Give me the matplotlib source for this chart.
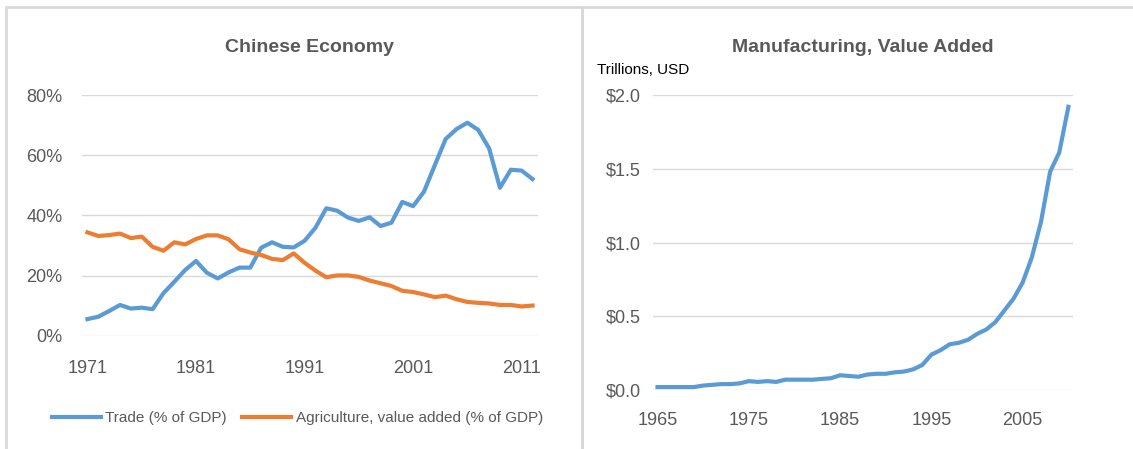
import matplotlib.pyplot as plt
from matplotlib.patches import Rectangle

plt.rcParams['font.family'] = ['Liberation Sans', 'DejaVu Sans']

# left chart: Chinese economy, share of GDP (%)
years_cn = list(range(1971, 2013))
trade = [5.6, 6.4, 8.3, 10.3, 9.1, 9.4, 8.9, 14.2, 18.0, 21.9,
         24.9, 21.0, 19.1, 21.1, 22.7, 22.7, 29.3, 31.1, 29.6, 29.4,
         31.6, 35.9, 42.4, 41.6, 39.3, 38.2, 39.4, 36.5, 37.6, 44.5,
         43.1, 47.9, 56.7, 65.4, 68.7, 70.8, 68.4, 62.3, 49.2, 55.2,
         54.9, 52.1]
agri = [34.4, 33.2, 33.5, 34.0, 32.5, 33.0, 29.6, 28.3, 31.1, 30.4,
        32.2, 33.4, 33.4, 32.1, 28.8, 27.7, 26.9, 25.6, 25.2, 27.4,
        24.3, 21.7, 19.5, 20.1, 20.1, 19.6, 18.4, 17.5, 16.6, 15.0,
        14.6, 13.8, 12.9, 13.4, 12.2, 11.3, 11.0, 10.8, 10.3, 10.3,
        9.8, 10.1]

# right chart: manufacturing value added, trillions USD
years_mfg = list(range(1965, 2011))
mfg = [0.02, 0.02, 0.02, 0.02, 0.02, 0.03, 0.035, 0.04, 0.04, 0.045,
       0.06, 0.055, 0.06, 0.055, 0.07, 0.07, 0.07, 0.07, 0.075, 0.08,
       0.10, 0.095, 0.09, 0.105, 0.11, 0.11, 0.12, 0.125, 0.14, 0.17,
       0.24, 0.27, 0.31, 0.32, 0.34, 0.38, 0.41, 0.46, 0.54, 0.62,
       0.73, 0.90, 1.14, 1.48, 1.61, 1.92]

blue = '#5B9BD5'
orange = '#ED7D31'
gray = '#595959'
grid = '#D9D9D9'

fig = plt.figure(figsize=(11.33, 4.49), dpi=100)

# panel frames
fig.add_artist(Rectangle((6 / 1133, -0.01), 576 / 1133, 1 - 7 / 449 + 0.01,
                         transform=fig.transFigure, fill=False,
                         edgecolor=grid, lw=2))
fig.add_artist(Rectangle((582 / 1133, -0.01), 0.5, 1 - 7 / 449 + 0.01,
                         transform=fig.transFigure, fill=False,
                         edgecolor=grid, lw=2))


def style(ax):
    for s in ax.spines.values():
        s.set_visible(False)
    ax.grid(axis='y', color=grid, lw=1)
    ax.set_axisbelow(True)
    ax.tick_params(length=0, labelcolor=gray, labelsize=13)


ax1 = fig.add_axes([0.0724, 0.2517, 0.4024, 0.5367])
style(ax1)
ax1.plot(years_cn, trade, color=blue, lw=3, label='Trade (% of GDP)')
ax1.plot(years_cn, agri, color=orange, lw=3,
         label='Agriculture, value added (% of GDP)')
ax1.set_xlim(1970.5, 2012.5)
ax1.set_ylim(0, 80)
ax1.set_yticks([0, 20, 40, 60, 80])
ax1.set_yticklabels(['0%', '20%', '40%', '60%', '80%'])
ax1.set_xticks([1971, 1981, 1991, 2001, 2011])
ax1.tick_params(axis='y', pad=14)
ax1.tick_params(axis='x', pad=17)
ax1.set_title('Chinese Economy', fontsize=14, fontweight='bold', color=gray,
              pad=31)
ax1.legend(loc='center', bbox_to_anchor=(0.472, -0.34), ncol=2, frameon=False,
           fontsize=11, labelcolor=gray, handlelength=3.2, columnspacing=1.0,
           handletextpad=0.3)

ax2 = fig.add_axes([0.5763, 0.1314, 0.3707, 0.657])
style(ax2)
ax2.plot(years_mfg, mfg, color=blue, lw=3)
ax2.set_xlim(1964.5, 2010.5)
ax2.set_ylim(0, 2.0)
ax2.set_yticks([0, 0.5, 1.0, 1.5, 2.0])
ax2.set_yticklabels(['$0.0', '$0.5', '$1.0', '$1.5', '$2.0'])
ax2.set_xticks([1965, 1975, 1985, 1995, 2005])
ax2.tick_params(axis='y', pad=9)
ax2.tick_params(axis='x', pad=16)
ax2.set_title('Manufacturing, Value Added', fontsize=14, fontweight='bold',
              color=gray, pad=31)
fig.text(597 / 1133, 1 - 70 / 449, 'Trillions, USD', fontsize=11,
         color='black', va='center', ha='left')

fig.savefig('out.png', dpi=100)
